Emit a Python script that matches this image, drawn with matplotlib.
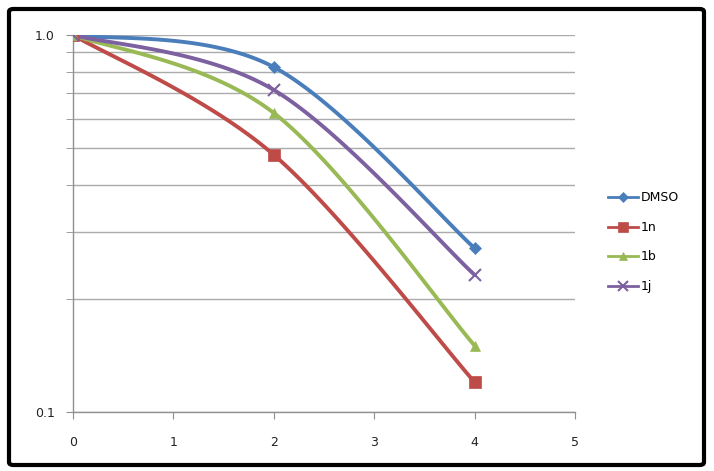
import numpy as np
import matplotlib
matplotlib.use("Agg")
import matplotlib.pyplot as plt
from matplotlib.patches import FancyBboxPatch
from matplotlib.lines import Line2D

x_vals = [0, 2, 4]
dmso = [1.0, 0.822, 0.272]
s1n = [1.0, 0.481, 0.120]
s1b = [1.0, 0.621, 0.150]
s1j = [1.0, 0.715, 0.231]
names = ["DMSO", "1n", "1b", "1j"]
colors = ["#4A7EBB", "#BE4B48", "#98B954", "#7D60A0"]
markers = ["D", "s", "^", "x"]
msizes = [6, 8, 7, 8]


def smooth(xs, ys, n=60):
    px = np.array(xs, float)
    py = np.log10(np.array(ys, float))
    P = np.column_stack([px, py])
    out = []
    for i in range(len(P) - 1):
        p0 = P[max(i - 1, 0)]
        p1 = P[i]
        p2 = P[i + 1]
        p3 = P[min(i + 2, len(P) - 1)]
        c1 = p1 + (p2 - p0) / 6.0
        c2 = p2 - (p3 - p1) / 6.0
        t = np.linspace(0, 1, n)[:, None]
        seg = ((1 - t) ** 3) * p1 + 3 * ((1 - t) ** 2) * t * c1 + 3 * (1 - t) * t ** 2 * c2 + t ** 3 * p2
        out.append(seg)
    seg = np.vstack(out)
    return seg[:, 0], 10 ** seg[:, 1]


fig = plt.figure(figsize=(7.14, 4.71), dpi=100)
W, H = 714, 471
ax = fig.add_axes([73 / W, 1 - 412 / H, (575 - 73) / W, (412 - 35) / H])

series = [dmso, s1n, s1b, s1j]
handles = []
for ys, nm, c, m, ms in zip(series, names, colors, markers, msizes):
    sx, sy = smooth(x_vals, ys)
    ax.plot(sx, sy, color=c, lw=2.8, solid_capstyle="round", zorder=3)
    mew = 1.5 if m == "x" else 0.5
    ax.plot(x_vals, ys, linestyle="none", marker=m, color=c, ms=ms, mew=mew, zorder=4)
    handles.append(Line2D([0], [0], color=c, lw=2, marker=m, ms=ms - 1, mew=mew))

ax.set_yscale("log")
ax.set_ylim(0.1, 1.0)
ax.set_xlim(0, 5)
ax.set_yticks([0.1, 1.0])
ax.set_yticklabels(["0.1", "1.0"])
ax.set_yticks([0.2, 0.3, 0.4, 0.5, 0.6, 0.7, 0.8, 0.9], minor=True)
ax.yaxis.set_minor_formatter(matplotlib.ticker.NullFormatter())
ax.set_xticks([0, 1, 2, 3, 4, 5])
ax.set_xticklabels(["0", "1", "2", "3", "4", "5"])
ax.grid(True, which="both", axis="y", color="#ABABAB", lw=1)
ax.set_axisbelow(True)
for s in ["top", "right"]:
    ax.spines[s].set_visible(False)
for s in ["left", "bottom"]:
    ax.spines[s].set_color("#909090")
    ax.spines[s].set_linewidth(1)
ax.tick_params(axis="both", which="both", direction="out", color="#909090", length=5, labelsize=9, labelcolor="#222222")
ax.tick_params(axis="x", pad=12)
ax.tick_params(axis="y", pad=8)

leg = fig.legend(handles, names, loc="upper left", bbox_to_anchor=(597 / W, 1 - 180 / H),
                 frameon=False, fontsize=9, handlelength=2.4, labelspacing=1.33, handletextpad=0.2)

border = FancyBboxPatch((9 / W, 6 / H), 695 / W, 456 / H, boxstyle="round,pad=0,rounding_size=0.006",
                        transform=fig.transFigure, fill=False, edgecolor="black", lw=3)
fig.patches.append(border)

fig.savefig("out.png", dpi=100)
